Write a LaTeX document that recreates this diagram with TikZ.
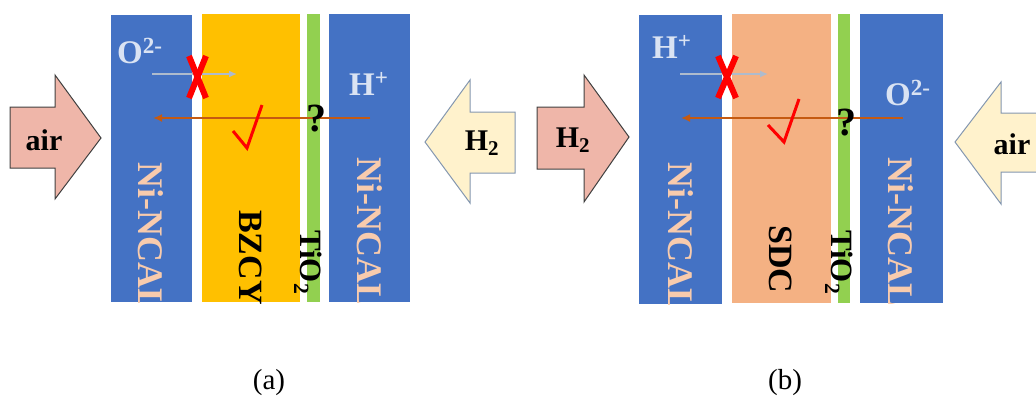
\documentclass[tikz,border=0pt]{standalone}
\usepackage{fontspec}
\setmainfont{Liberation Serif}
\usetikzlibrary{arrows.meta}
\definecolor{cblue}{HTML}{4472C4}
\definecolor{cyel}{HTML}{FFC000}
\definecolor{cgreen}{HTML}{92D050}
\definecolor{csdc}{HTML}{F4B183}
\definecolor{cpeach}{HTML}{F8CBAD}
\definecolor{cion}{HTML}{DAE3F3}
\definecolor{cpink}{HTML}{EFB6A9}
\definecolor{cpinkline}{HTML}{404040}
\definecolor{ccream}{HTML}{FFF2CC}
\definecolor{ccreamline}{HTML}{8497B0}
\definecolor{cgrayarrow}{HTML}{AEBBCD}
\definecolor{corange}{HTML}{C55A11}
\tikzset{
  vlabel/.style={rotate=-90,anchor=base west,inner sep=0pt,font=\bfseries\fontsize{#1}{#1}\selectfont},
  ionlabel/.style={anchor=base west,inner sep=0pt,text=cion,font=\bfseries\fontsize{33}{33}\selectfont},
  gaslabel/.style={inner sep=0pt,font=\bfseries\fontsize{30}{30}\selectfont},
  pinkarrow/.style={fill=cpink,draw=cpinkline,line width=1pt},
  creamarrow/.style={fill=ccream,draw=ccreamline,line width=1pt},
  blocked/.style={draw=cgrayarrow,line width=1.5pt,-{Latex[length=8pt,width=7pt]}},
  passing/.style={draw=corange,line width=1.8pt,-{Latex[length=9pt,width=8pt]}},
  cross/.style={draw=red,line width=6pt},
  tick/.style={draw=red,line width=3pt,line join=miter},
  qmark/.style={inner sep=0pt,font=\bfseries\fontsize{40}{40}\selectfont},
  caption/.style={inner sep=0pt,font=\fontsize{29}{29}\selectfont}
}
\begin{document}
\begin{tikzpicture}[x=1pt,y=-1pt]
\useasboundingbox (0,0) rectangle (1036,397);
\clip (0,0) rectangle (1036,397);
% ---------------- panel (a) ----------------
\fill[cblue] (111,15) rectangle (192,302);
\fill[cyel] (202,14) rectangle (300,302);
\fill[cgreen] (307,14) rectangle (320,302);
\fill[cblue] (329,14) rectangle (410,302);
\begin{scope}
\clip (111,15) rectangle (192,302);
\node[vlabel=36,text=cpeach] (a-ncal1) at (138,162) {Ni-NCAL};
\end{scope}
\begin{scope}
\clip (329,14) rectangle (410,302);
\node[vlabel=36,text=cpeach] (a-ncal2) at (357,157) {Ni-NCAL};
\end{scope}
\node[vlabel=34] (a-bzcy) at (239,210) {BZCY};
\node[vlabel=31] (a-tio) at (300,230) {TiO\textsubscript{2}};
% gas arrows
\draw[pinkarrow] (10,107) -- (55,107) -- (55,75) -- (101,138) -- (55,199) -- (55,168) -- (10,168) -- cycle;
\node[gaslabel] (a-air) at (44,140) {air};
\draw[creamarrow] (515,112) -- (470,112) -- (470,80) -- (425,142) -- (470,203) -- (470,173) -- (515,173) -- cycle;
\node[gaslabel] (a-h2) at (482,143) {H\textsubscript{2}};
% ions
\node[ionlabel] (a-o2) at (117,63) {O\textsuperscript{2-}};
\node[ionlabel] (a-h) at (349,95) {H\textsuperscript{+}};
\coordinate (a-g1) at (152,74);
\coordinate (a-g2) at (237,74);
\draw[blocked] (a-g1) -- (a-g2);
\coordinate (a-x1) at (189,56); \coordinate (a-x2) at (206,98);
\coordinate (a-x3) at (206,56); \coordinate (a-x4) at (189,98);
\draw[cross] (a-x1) -- (a-x2);
\draw[cross] (a-x3) -- (a-x4);
\coordinate (a-o1) at (370,118);
\coordinate (a-o2end) at (153,118);
\draw[passing] (a-o1) -- (a-o2end);
\node[qmark] (a-q) at (316,119) {?};
\coordinate (a-t1) at (233,131); \coordinate (a-t2) at (247,148); \coordinate (a-t3) at (262,105);
\draw[tick] (a-t1) -- (a-t2) -- (a-t3);
\node[caption] (a-cap) at (269,383) {(a)};
% ---------------- panel (b) ----------------
\fill[cblue] (639,15) rectangle (722,304);
\fill[csdc] (732,14) rectangle (831,303);
\fill[cgreen] (838,14) rectangle (850,303);
\fill[cblue] (860,14) rectangle (943,303);
\begin{scope}
\clip (639,15) rectangle (722,304);
\node[vlabel=36,text=cpeach] (b-ncal1) at (668,162) {Ni-NCAL};
\end{scope}
\begin{scope}
\clip (860,14) rectangle (943,303);
\node[vlabel=36,text=cpeach] (b-ncal2) at (888,157) {Ni-NCAL};
\end{scope}
\node[vlabel=34] (b-sdc) at (769,225) {SDC};
\node[vlabel=31] (b-tio) at (831,230) {TiO\textsubscript{2}};
% gas arrows
\draw[pinkarrow] (537,107) -- (584,107) -- (584,75) -- (629,137) -- (584,202) -- (584,169) -- (537,169) -- cycle;
\node[gaslabel] (b-h2) at (573,140) {H\textsubscript{2}};
\draw[creamarrow] (1050,113) -- (1001,113) -- (1001,82) -- (955,142) -- (1001,204) -- (1001,172) -- (1050,172) -- cycle;
\node[gaslabel] (b-air) at (1012,144) {air};
% ions
\node[ionlabel] (b-h) at (652,58) {H\textsuperscript{+}};
\node[ionlabel] (b-o2) at (885,105) {O\textsuperscript{2-}};
\coordinate (b-g1) at (680,74);
\coordinate (b-g2) at (768,74);
\draw[blocked] (b-g1) -- (b-g2);
\coordinate (b-x1) at (718,56); \coordinate (b-x2) at (736,98);
\coordinate (b-x3) at (736,56); \coordinate (b-x4) at (718,98);
\draw[cross] (b-x1) -- (b-x2);
\draw[cross] (b-x3) -- (b-x4);
\coordinate (b-o1) at (903,118);
\coordinate (b-o2end) at (681,118);
\draw[passing] (b-o1) -- (b-o2end);
\node[qmark] (b-q) at (846,123) {?};
\coordinate (b-t1) at (768,125); \coordinate (b-t2) at (784,142); \coordinate (b-t3) at (799,99);
\draw[tick] (b-t1) -- (b-t2) -- (b-t3);
\node[caption] (b-cap) at (785,383) {(b)};
\end{tikzpicture}
\end{document}
